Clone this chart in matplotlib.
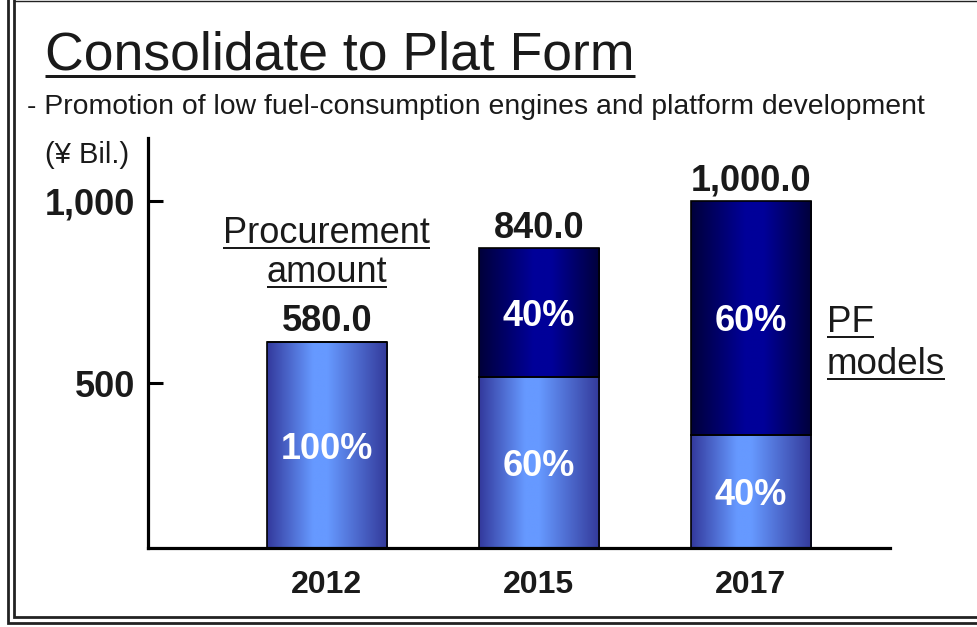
import matplotlib
matplotlib.use("Agg")
import matplotlib.pyplot as plt
import numpy as np
from matplotlib.colors import LinearSegmentedColormap
from matplotlib.lines import Line2D

# ---------------- data ----------------
years = ["2012", "2015", "2017"]
lower_values = [613, 516, 357]      # drawn height of the lower (non-PF) segment
upper_values = [0, 355, 643]        # drawn height of the upper (PF models) segment
total_labels = [580.0, 840.0, 1000.0]
lower_shares = ["100%", "60%", "40%"]
upper_shares = ["", "40%", "60%"]
ytick_values = [500, 1000]
ytick_labels = ["500", "1,000"]

W, H = 977, 627
plt.rcParams['font.family'] = ['Liberation Sans', 'DejaVu Sans']
TXT = '#1a1a1a'

fig = plt.figure(figsize=(W / 100, H / 100), dpi=100)
fig.patch.set_facecolor('white')

ax = fig.add_axes([148 / W, 1 - 548 / H, (890 - 148) / W, (548 - 138) / H])
ax.set_facecolor('none')

x = np.arange(len(years))
bw = 0.57
ylo, yhi = 47, 1173

light_cmap = LinearSegmentedColormap.from_list(
    'light', [(0, '#33399c'), (0.38, '#6699ff'), (0.5, '#6699ff'), (1, '#33399a')])
dark_cmap = LinearSegmentedColormap.from_list(
    'dark', [(0, '#00003a'), (0.45, '#000099'), (0.6, '#000099'), (1, '#00003a')])
grad = np.linspace(0, 1, 256).reshape(1, -1)

lower_bars = ax.bar(x, lower_values, width=bw, bottom=0, color='none',
                    edgecolor='black', linewidth=1.2, zorder=3)
upper_bars = ax.bar(x, upper_values, width=bw, bottom=lower_values, color='none',
                    edgecolor='black', linewidth=1.2, zorder=3)

for bars, bottoms, vals, cmap in [(lower_bars, [0] * 3, lower_values, light_cmap),
                                  (upper_bars, lower_values, upper_values, dark_cmap)]:
    for b, bot, v in zip(bars, bottoms, vals):
        if v <= 0:
            continue
        bx = b.get_x()
        im = ax.imshow(grad, extent=[bx, bx + b.get_width(), max(bot, ylo), bot + v],
                       cmap=cmap, aspect='auto', zorder=2, interpolation='bilinear')
        im.set_clip_path(b)

ax.set_xlim(-0.844, 2.656)
ax.set_ylim(ylo, yhi)

# percentages and totals
for i in range(len(years)):
    lo_bot = max(0, ylo)
    ax.annotate(lower_shares[i], (x[i], (lo_bot + lower_values[i]) / 2), xytext=(0, -3),
                textcoords='offset points', ha='center', va='center',
                color='white', fontsize=26, fontweight='bold', zorder=5)
    if upper_values[i] > 0:
        ax.annotate(upper_shares[i], (x[i], lower_values[i] + upper_values[i] / 2),
                    xytext=(0, -2.5), textcoords='offset points', ha='center',
                    va='center', color='white', fontsize=26, fontweight='bold', zorder=5)
    top = lower_values[i] + upper_values[i]
    ax.annotate(f"{total_labels[i]:,.1f}", (x[i], top), xytext=(0, 7.5),
                textcoords='offset points', ha='center', va='baseline',
                fontsize=26, fontweight='bold', color=TXT)

# axes styling
for s in ['top', 'right']:
    ax.spines[s].set_visible(False)
ax.spines['left'].set_linewidth(2.3)
ax.spines['bottom'].set_linewidth(2.3)
ax.set_yticks(ytick_values)
ax.set_yticklabels(ytick_labels, fontsize=26, fontweight='bold', color=TXT)
ax.tick_params(axis='y', direction='in', length=11, width=2.2, pad=9)
ax.set_xticks(x)
ax.set_xticklabels(years, fontsize=23, fontweight='bold', color=TXT)
ax.tick_params(axis='x', length=0, pad=16)

# annotations text
underlined = []
t = fig.text(45 / W, 1 - 70 / H, "Consolidate to Plat Form", fontsize=38.5, color=TXT,
             ha='left', va='baseline')
underlined.append((t, 6, 3))
fig.text(27 / W, 1 - 114 / H, "- Promotion of low fuel-consumption engines and platform development",
         fontsize=20.4, color=TXT, ha='left', va='baseline')
fig.text(45 / W, 1 - 163 / H, "(¥ Bil.)", fontsize=21, color=TXT, ha='left', va='baseline')

t1 = ax.text(0, 884, "Procurement", fontsize=26, color=TXT, ha='center', va='baseline')
t2 = ax.text(0, 777, "amount", fontsize=26, color=TXT, ha='center', va='baseline')
t3 = ax.text(2.358, 640, "PF", fontsize=26.5, color=TXT, ha='left', va='baseline')
t4 = ax.text(2.358, 525, "models", fontsize=26.5, color=TXT, ha='left', va='baseline')
for tt in (t1, t2, t3, t4):
    underlined.append((tt, 5, 2))

fig.canvas.draw()
r = fig.canvas.get_renderer()
for tt, off, lw in underlined:
    bb = tt.get_window_extent(r)
    xy = tt.get_transform().transform(tt.get_position())
    yb = xy[1] - off
    fig.add_artist(Line2D([bb.x0 / W, bb.x1 / W], [yb / H, yb / H], transform=fig.transFigure,
                          color=TXT, linewidth=lw * 0.72, solid_capstyle='butt'))

# frame
fc = '#222222'
for xv, yv in [(8, 623), (13.5, 617)]:
    fig.add_artist(Line2D([xv / W, xv / W, 1], [1, 1 - yv / H, 1 - yv / H],
                          transform=fig.transFigure, color=fc, linewidth=2.0,
                          solid_joinstyle='miter'))
fig.add_artist(Line2D([13.5 / W, 1], [1 - 0.7 / H, 1 - 0.7 / H], transform=fig.transFigure,
                      color=fc, linewidth=1.0))

fig.savefig("out.png", dpi=100, facecolor='white')
